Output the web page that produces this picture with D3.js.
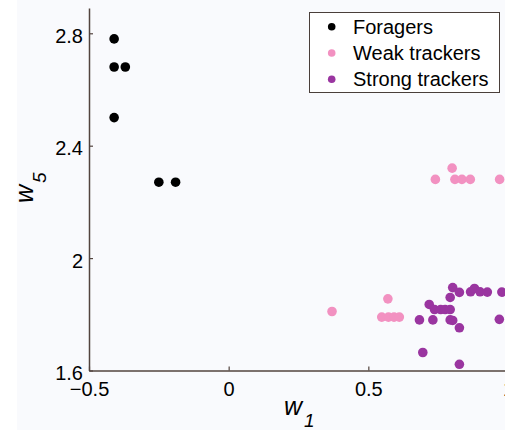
<!DOCTYPE html>
<html>
<head>
<meta charset="utf-8">
<script src="https://cdn.jsdelivr.net/npm/d3@7"></script>
<style>
  html, body { margin: 0; padding: 0; background: #ffffff; }
  svg { display: block; }
  text { font-family: "Liberation Sans", Arial, Helvetica, sans-serif; }
</style>
</head>
<body>
<svg id="chart" width="505" height="430"></svg>
<script>
// Group names and colours
const groups = ["Foragers", "Weak trackers", "Strong trackers"];
const groupColors = ["#000000", "#f291c1", "#9a35a0"];

// Foragers: (w1, w5)
const foragersW1 = [-0.41, -0.41, -0.37, -0.41, -0.25, -0.19];
const foragersW5 = [2.78, 2.68, 2.68, 2.50, 2.27, 2.27];

// Weak trackers
const weakW1 = [0.80, 0.74, 0.81, 0.835, 0.865, 0.97, 0.37, 0.57, 0.548, 0.572, 0.592, 0.611];
const weakW5 = [2.32, 2.28, 2.28, 2.28, 2.28, 2.28, 1.81, 1.855, 1.79, 1.79, 1.79, 1.79];

// Strong trackers
const strongW1 = [0.683, 0.695, 0.718, 0.731, 0.737, 0.759, 0.775, 0.793, 0.793, 0.793, 0.802,
                  0.802, 0.826, 0.826, 0.826, 0.866, 0.880, 0.900, 0.926, 0.978, 0.969];
const strongW5 = [1.78, 1.664, 1.835, 1.78, 1.817, 1.817, 1.817, 1.817, 1.86, 1.78, 1.778,
                  1.895, 1.878, 1.752, 1.622, 1.88, 1.892, 1.88, 1.879, 1.879, 1.782];

// Axis ticks
const xTicks = [-0.5, 0, 0.5, 1];
const xTickLabels = ["\u22120.5", "0", "0.5", "1"];
const yTicks = [1.6, 2, 2.4, 2.8];
const yTickLabels = ["1.6", "2", "2.4", "2.8"];

const svg = d3.select("#chart");
const W = 505, H = 430;

// Figure background
svg.append("rect").attr("x", 17).attr("y", 0).attr("width", W - 17).attr("height", H)
  .attr("fill", "#f9fafd");

const x = d3.scaleLinear().domain([-0.5, 1.0]).range([89, 508]);
const y = d3.scaleLinear().domain([1.6, 2.89]).range([370.5, 8]);

const axisColor = "#52443e";

// Points
const series = [
  { w1: foragersW1, w5: foragersW5, color: groupColors[0] },
  { w1: weakW1, w5: weakW5, color: groupColors[1] },
  { w1: strongW1, w5: strongW5, color: groupColors[2] }
];
const plot = svg.append("g");
series.forEach(s => {
  plot.selectAll(null)
    .data(d3.range(s.w1.length))
    .enter().append("circle")
    .attr("cx", i => x(s.w1[i]))
    .attr("cy", i => y(s.w5[i]))
    .attr("r", 4.8)
    .attr("fill", s.color);
});

// X axis (ticks point inward)
const xAxis = d3.axisBottom(x)
  .tickValues(xTicks)
  .tickFormat((d, i) => xTickLabels[i])
  .tickSizeInner(-4).tickSizeOuter(0).tickPadding(11);
const gx = svg.append("g").attr("transform", `translate(0,${y(1.6)})`).call(xAxis);

// Y axis
const yAxis = d3.axisLeft(y)
  .tickValues(yTicks)
  .tickFormat((d, i) => yTickLabels[i])
  .tickSizeInner(-4).tickSizeOuter(0).tickPadding(6);
const gy = svg.append("g").attr("transform", `translate(${x(-0.5)},0)`).call(yAxis);

[gx, gy].forEach(g => {
  g.select(".domain").attr("stroke", axisColor).attr("stroke-width", 1.5);
  g.selectAll(".tick line").attr("stroke", axisColor).attr("stroke-width", 1.2);
  g.selectAll(".tick text").attr("fill", "#000").style("font-size", "20px")
    .style("font-family", "'Liberation Sans', Arial, sans-serif");
});
gy.selectAll(".tick text").attr("dy", "0.45em");

// Axis titles
const xt = svg.append("text").attr("x", 284).attr("y", 415)
  .style("font-size", "25px").attr("fill", "#000");
xt.append("tspan").text("w").style("font-style", "italic");
xt.append("tspan").text("1").style("font-style", "italic")
  .style("font-size", "19px").attr("dx", 2).attr("dy", 12);

const yt = svg.append("text").attr("transform", "translate(33,203) rotate(-90)")
  .style("font-size", "25px").attr("fill", "#000");
yt.append("tspan").text("w").style("font-style", "italic");
yt.append("tspan").text("5").style("font-style", "italic")
  .style("font-size", "19px").attr("dx", 2).attr("dy", 13);

// Legend
const lg = svg.append("g");
lg.append("rect").attr("x", 309.5).attr("y", 12.5).attr("width", 190).attr("height", 80)
  .attr("fill", "#ffffff").attr("stroke", "#4a3f3a").attr("stroke-width", 1);
groups.forEach((name, i) => {
  const cy = 26.7 + i * 26.3;
  lg.append("circle").attr("cx", 331.7).attr("cy", cy).attr("r", 3.8)
    .attr("fill", groupColors[i]);
  lg.append("text").attr("x", 353).attr("y", cy + 7)
    .style("font-size", "20px").attr("fill", "#000").text(name);
});
</script>
</body>
</html>
